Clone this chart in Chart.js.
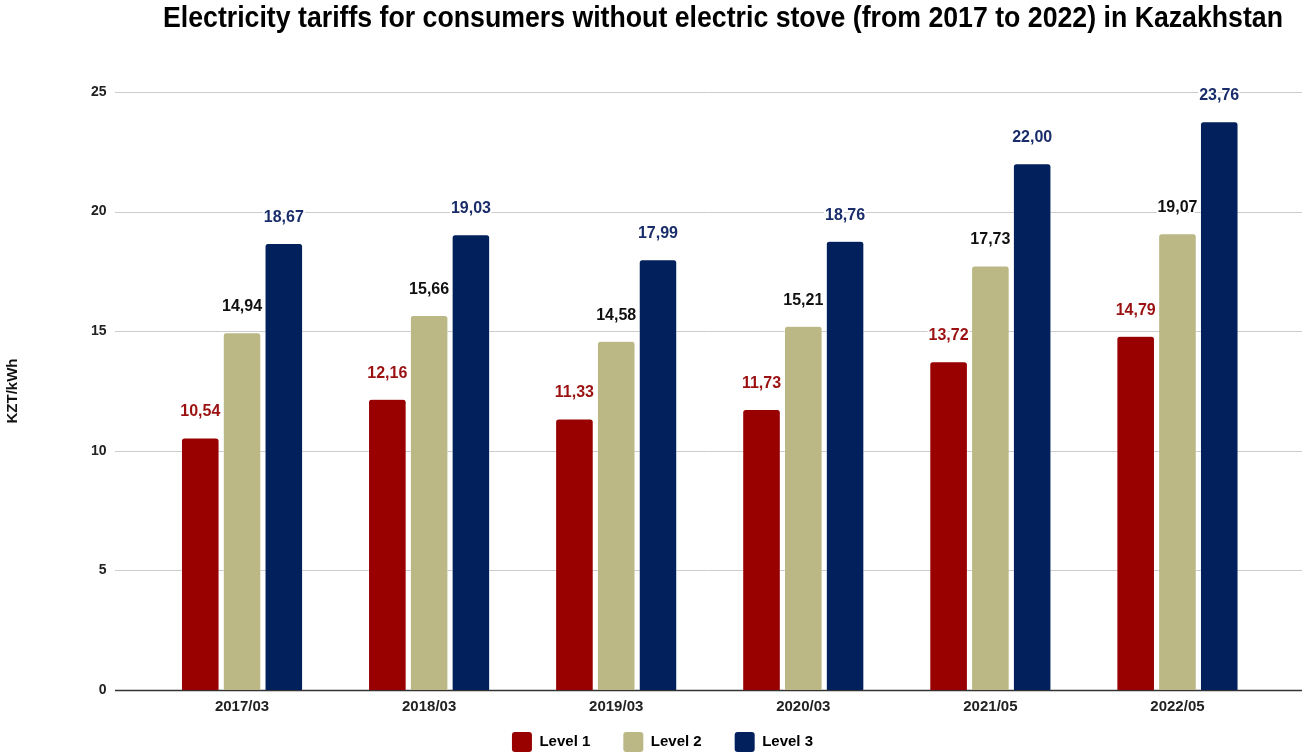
<!DOCTYPE html>
<html>
<head>
<meta charset="utf-8">
<script src="https://cdn.jsdelivr.net/npm/chart.js@4/dist/chart.umd.min.js"></script>
<style>
  html, body { margin: 0; padding: 0; background: #fff; }
  #wrap { width: 1304px; height: 755px; position: relative; }
</style>
</head>
<body>
<div id="wrap"><canvas id="chart"></canvas></div>
<script>
// --- DATOS ---
const periods = ["2017/03", "2018/03", "2019/03", "2020/03", "2021/05", "2022/05"];
const level1 = [10.54, 12.16, 11.33, 11.73, 13.72, 14.79];
const level2 = [14.94, 15.66, 14.58, 15.21, 17.73, 19.07];
const level3 = [18.67, 19.03, 17.99, 18.76, 22.00, 23.76];
const yTicks = [0, 5, 10, 15, 20, 25];

const titleText = "Electricity tariffs for consumers without electric stove (from 2017 to 2022) in Kazakhstan";
const FONT = "'Liberation Sans', Arial, sans-serif";

// --- PLUGINS ---
const gridPlugin = {
  id: 'wideGrid',
  beforeDatasetsDraw(chart) {
    const { ctx } = chart;
    const y = chart.scales.y;
    ctx.save();
    yTicks.forEach(v => {
      const py = Math.round(y.getPixelForValue(v)) + 0.5;
      ctx.strokeStyle = v === 0 ? '#333333' : '#cccccc';
      ctx.lineWidth = v === 0 ? 1.5 : 1;
      ctx.beginPath();
      ctx.moveTo(115, py);
      ctx.lineTo(1302, py);
      ctx.stroke();
    });
    ctx.restore();
  }
};

const labelPlugin = {
  id: 'barLabels',
  afterDatasetsDraw(chart) {
    const { ctx } = chart;
    ctx.save();
    ctx.font = `bold 16px ${FONT}`;
    ctx.textAlign = 'center';
    ctx.textBaseline = 'middle';
    ctx.lineJoin = 'round';
    chart.data.datasets.forEach((ds, i) => {
      const meta = chart.getDatasetMeta(i);
      meta.data.forEach((bar, j) => {
        const txt = ds.data[j].toFixed(2).replace('.', ',');
        const ty = bar.y - 26;
        ctx.strokeStyle = '#ffffff';
        ctx.lineWidth = 4;
        ctx.strokeText(txt, bar.x, ty);
        ctx.fillStyle = ds.labelColor;
        ctx.fillText(txt, bar.x, ty);
      });
    });
    ctx.restore();
  }
};

// título estrecho, como en la imagen
const titlePlugin = {
  id: 'customTitle',
  afterDraw(chart) {
    const { ctx } = chart;
    ctx.save();
    ctx.font = `bold 30px ${FONT}`;
    const w = ctx.measureText(titleText).width;
    ctx.translate(723, 27);
    ctx.scale(1120 / w, 1);
    ctx.fillStyle = '#000000';
    ctx.textAlign = 'center';
    ctx.textBaseline = 'alphabetic';
    ctx.fillText(titleText, 0, 0);
    ctx.restore();
  }
};

// la leyenda usa padding grande (separación horizontal); se sube y se corre un poco
const legendShift = {
  id: 'legendShift',
  afterLayout(chart) {
    const lg = chart.legend;
    if (!lg) return;
    lg.top -= 21;
    lg.left += 27;
    lg.right += 27;
  }
};

// --- GRÁFICA ---
const barStyle = { borderColor: '#ffffff', borderWidth: 0.5, borderRadius: 3, borderSkipped: 'bottom' };

new Chart(document.getElementById('chart'), {
  type: 'bar',
  data: {
    labels: periods,
    datasets: [
      { label: 'Level 1', data: level1, backgroundColor: '#990000', labelColor: '#9b1111', ...barStyle },
      { label: 'Level 2', data: level2, backgroundColor: '#bbb886', labelColor: '#111111', ...barStyle },
      { label: 'Level 3', data: level3, backgroundColor: '#02205c', labelColor: '#1a2d6b', ...barStyle }
    ]
  },
  options: {
    responsive: true,
    maintainAspectRatio: false,
    animation: false,
    layout: { padding: { top: 92, right: 33, left: 0, bottom: 0 } },
    datasets: { bar: { categoryPercentage: 0.67, barPercentage: 0.9 } },
    plugins: {
      legend: {
        position: 'bottom',
        maxHeight: 35,
        labels: {
          boxWidth: 20,
          boxHeight: 20,
          padding: 33,
          color: '#222222',
          font: { family: FONT, size: 15, weight: 'bold' },
          generateLabels(chart) {
            return chart.data.datasets.map((ds, i) => ({
              text: ds.label,
              fillStyle: ds.backgroundColor,
              strokeStyle: ds.backgroundColor,
              lineWidth: 0,
              borderRadius: 3,
              datasetIndex: i
            }));
          }
        }
      },
      tooltip: { enabled: false }
    },
    scales: {
      x: {
        grid: { display: false, drawTicks: false },
        border: { display: false },
        ticks: {
          color: '#222222',
          padding: 8,
          font: { family: FONT, size: 15, weight: 'bold' },
          maxRotation: 0
        },
        afterFit(scale) { scale.height = 30; }
      },
      y: {
        min: 0,
        max: 25,
        afterBuildTicks(scale) { scale.ticks = yTicks.map(v => ({ value: v })); },
        grid: { display: false, drawTicks: false },
        border: { display: false },
        ticks: {
          color: '#222222',
          padding: 42,
          font: { family: FONT, size: 14, weight: 'bold' }
        },
        title: {
          display: true,
          text: 'KZT/kWh',
          color: '#111111',
          font: { family: FONT, size: 15, weight: 'bold' },
          padding: { top: 4, bottom: 0 }
        },
        afterFit(scale) { scale.width = 148.5; }
      }
    }
  },
  plugins: [gridPlugin, labelPlugin, titlePlugin, legendShift]
});
</script>
</body>
</html>
